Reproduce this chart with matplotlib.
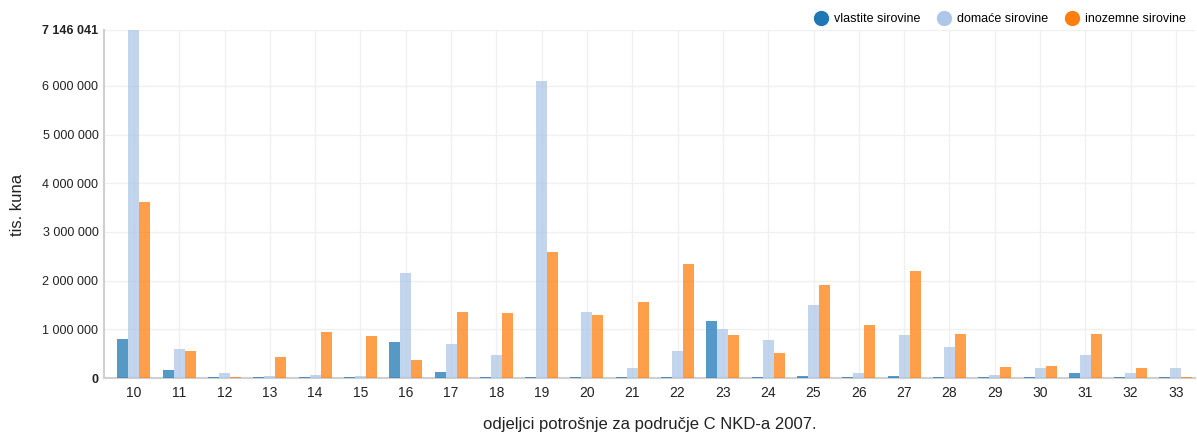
import matplotlib

matplotlib.use("Agg")

import matplotlib.pyplot as plt
import numpy as np
from matplotlib.lines import Line2D

plt.rcParams["font.family"] = ["Liberation Sans", "DejaVu Sans"]

categories = ["10", "11", "12", "13", "14", "15", "16", "17", "18", "19", "20", "21",
              "22", "23", "24", "25", "26", "27", "28", "29", "30", "31", "32", "33"]
vlastite = [800000, 160000, 25000, 25000, 25000, 25000, 740000, 120000, 25000, 25000, 25000, 25000,
            25000, 1170000, 25000, 40000, 25000, 40000, 25000, 25000, 25000, 100000, 25000, 25000]
domace = [7146041, 600000, 100000, 40000, 60000, 40000, 2160000, 700000, 470000, 6100000, 1360000, 210000,
          555000, 1000000, 780000, 1500000, 100000, 880000, 640000, 60000, 210000, 470000, 100000, 210000]
inozemne = [3620000, 555000, 20000, 430000, 950000, 860000, 370000, 1360000, 1340000, 2590000, 1290000, 1560000,
            2340000, 880000, 510000, 1910000, 1090000, 2200000, 900000, 230000, 250000, 900000, 210000, 25000]
series_names = ["vlastite sirovine", "domaće sirovine", "inozemne sirovine"]
colors = ["#1f77b4", "#aec7e8", "#ff7f0e"]
y_max = 7146041

fig = plt.figure(figsize=(11.97, 4.36), dpi=100)
ax = fig.add_axes([104 / 1197, 1 - 378 / 436, 1091 / 1197, 348 / 436])

x = np.arange(len(categories))
w = 0.243
for k, (vals, c) in enumerate(zip([vlastite, domace, inozemne], colors)):
    ax.bar(x + (k - 1) * w, vals, width=w, color=c, alpha=0.75, linewidth=0, zorder=3)

ax.set_xlim(-0.66, 23.42)
ax.set_ylim(0, y_max)
yticks = [0, 1000000, 2000000, 3000000, 4000000, 5000000, 6000000, y_max]
ax.set_yticks(yticks)
ax.set_yticklabels([f"{v:,}".replace(",", " ") for v in yticks])
for lbl in ax.get_yticklabels():
    if lbl.get_text() in ("0", "7 146 041"):
        lbl.set_fontweight("bold")
ax.set_xticks(x)
ax.set_xticklabels(categories)
ax.tick_params(axis="both", length=0, colors="#222222")
ax.tick_params(axis="y", pad=4, labelsize=9)
ax.tick_params(axis="x", pad=6, labelsize=10)
ax.grid(True, color="#f0f0f0", linewidth=1, zorder=0)
for side in ("top", "right"):
    ax.spines[side].set_visible(False)
ax.spines["left"].set_color("#d0d0d0")
ax.spines["left"].set_linewidth(1.5)
ax.spines["bottom"].set_color("#d0d0d0")
ax.spines["bottom"].set_linewidth(1.5)

fig.text(18 / 1197, 1 - 205 / 436, "tis. kuna", rotation=90, ha="center", va="center",
         fontsize=12, color="#222222")
ax.set_xlabel("odjeljci potrošnje za područje C NKD-a 2007.", fontsize=12, labelpad=12, color="#222222")

handles = [Line2D([], [], marker="o", linestyle="", markersize=10, color=c) for c in colors]
fig.legend(handles, series_names, loc="upper right", bbox_to_anchor=(0.998, 0.99), ncol=3,
           frameon=False, fontsize=9, handletextpad=0.05, columnspacing=0.9, borderaxespad=0.3)

fig.savefig("out.png", dpi=100)
